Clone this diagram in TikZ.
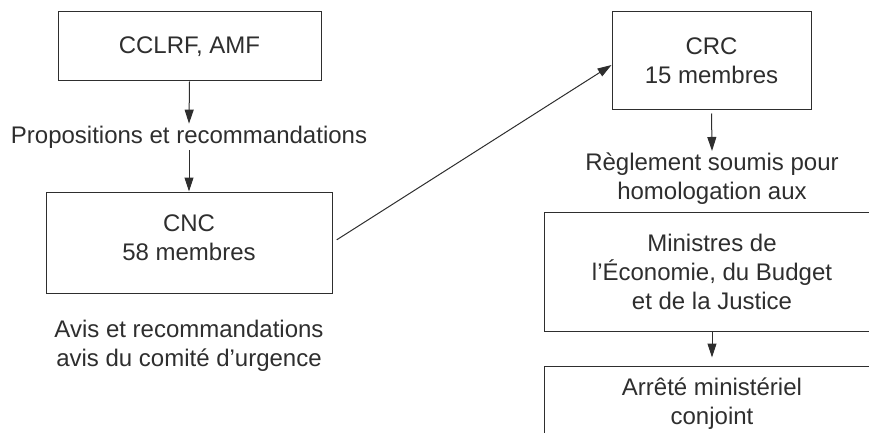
\documentclass[tikz,border=0pt]{standalone}
\usepackage{fontspec}
\setmainfont{Liberation Sans}
\usetikzlibrary{arrows.meta}
\definecolor{ink}{HTML}{2E2E2E}
\begin{document}
\begin{tikzpicture}[x=1pt,y=-1pt,
  every node/.style={text=ink,font=\fontsize{24}{29}\selectfont,align=center},
  box/.style={draw=ink,line width=1pt,inner sep=0pt},
  lbl/.style={inner sep=2pt},
  arr/.style={draw=ink,line width=1pt,-{Triangle[length=14pt,width=9pt]}}]
\useasboundingbox (0,0) rectangle (869,433);
\clip (0,0) rectangle (869,433);
\node[box,minimum width=263pt,minimum height=69pt] (cclrf) at (189.5,46.5) {CCLRF, AMF};
\node[lbl] (prop) at (189,137) {Propositions et recommandations};
\node[box,minimum width=286pt,minimum height=101pt] (cnc) at (189,242.5) {};
\node (cnct) at (189,238) {CNC\\58 membres};
\node[lbl] (avis) at (189,346) {Avis et recommandations\\avis du comité d’urgence};
\node[box,minimum width=199pt,minimum height=98pt] (crc) at (711.5,61) {CRC\\15 membres};
\node[lbl] (regl) at (712,179) {Règlement soumis pour\\homologation aux};
\node[box,minimum width=336pt,minimum height=119pt] (min) at (712,271.5) {Ministres de\\l’Économie, du Budget\\et de la Justice};
\node[box,minimum width=336pt,minimum height=80pt] (arr) at (712,406) {};
\node (arrt) at (712,404) {Arrêté ministériel\\conjoint};
\draw[arr] (cclrf.south) -- (prop.north);
\draw[arr] (prop.south) -- (cnc.north);
\draw[arr,shorten <=5pt] (cnc.east) -- ([yshift=-4pt]crc.west);
\draw[arr,shorten <=3pt] (crc.south) -- (regl.north);
\draw[arr,shorten >=8pt] (min.south) -- (arr.north);
\end{tikzpicture}
\end{document}
